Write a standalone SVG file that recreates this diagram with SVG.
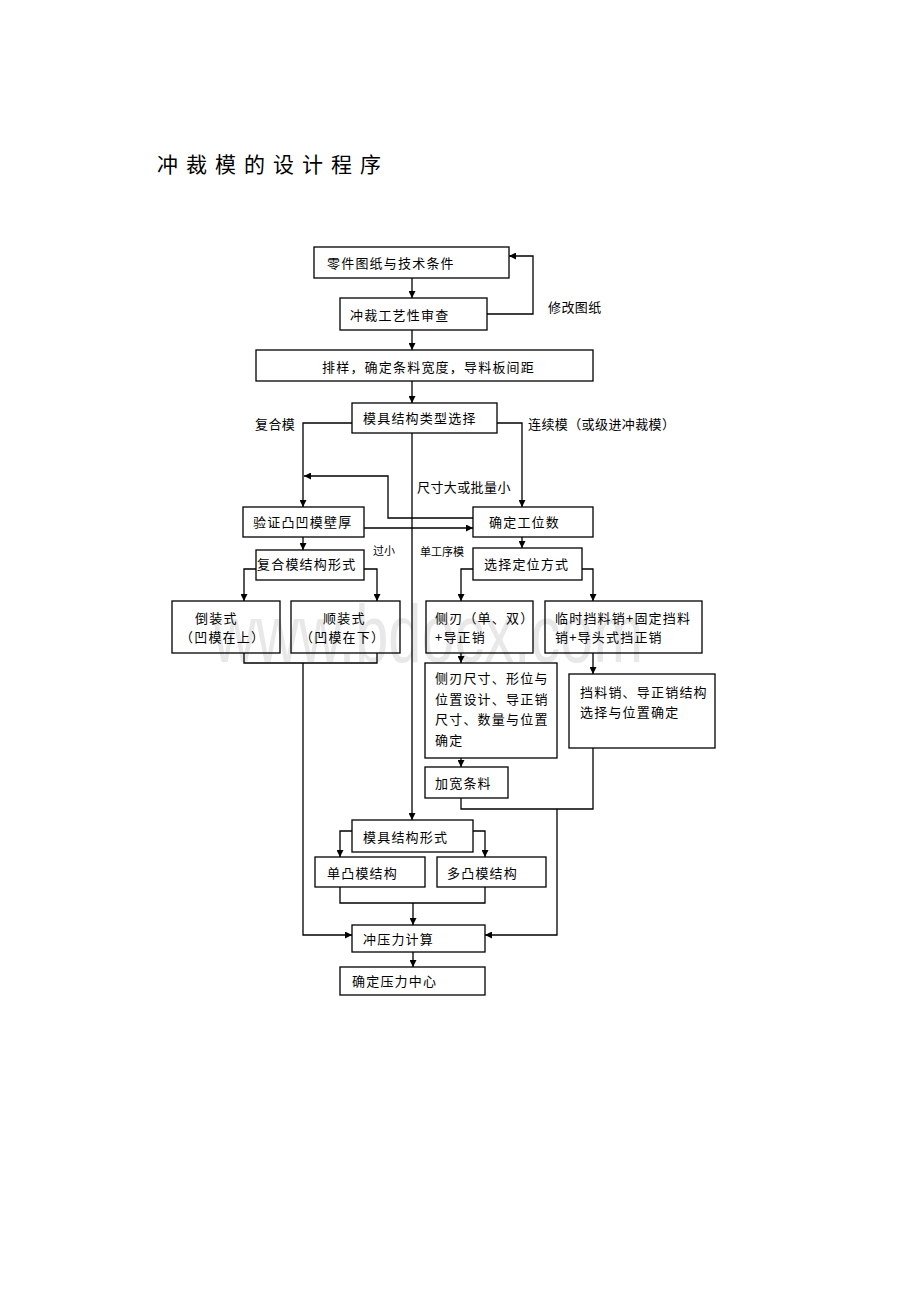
<svg xmlns="http://www.w3.org/2000/svg" width="920" height="1302" viewBox="0 0 920 1302">
<defs>
<style>
.bx{fill:none;stroke:#000;stroke-width:1.3}
.t{font-family:"Noto Sans CJK SC","Liberation Sans",sans-serif;font-size:13px;letter-spacing:1.2px;fill:#000}
.lb{font-family:"Noto Sans CJK SC","Liberation Sans",sans-serif;font-size:13px;letter-spacing:0.4px;fill:#000}
.sm{font-family:"Noto Sans CJK SC","Liberation Sans",sans-serif;font-size:11px;fill:#000}
.c{fill:none;stroke:#000;stroke-width:1.3}
.ttl{font-family:"Noto Sans CJK SC","Liberation Sans",sans-serif;font-size:21px;letter-spacing:8px;fill:#000}
.wm{font-family:"Liberation Sans",sans-serif;font-size:82px;fill:#e8e8e8}
</style>
<marker id="ah" viewBox="0 0 8 8" refX="8" refY="4" markerWidth="7" markerHeight="7" markerUnits="userSpaceOnUse" orient="auto">
<path d="M0,0 L8,4 L0,8 z" fill="#000"/>
</marker>
</defs>
<rect x="0" y="0" width="920" height="1302" fill="#fff"/>
<text class="wm" x="213" y="662" textLength="430" lengthAdjust="spacingAndGlyphs">www.bdocx.com</text>
<text class="ttl" x="157" y="172">冲裁模的设计程序</text>

<g id="connectors">
<path class="c" d="M412,278 V298" marker-end="url(#ah)"/>
<path class="c" d="M487,314 H533 V256 H509" marker-end="url(#ah)"/>
<path class="c" d="M412,330 V350" marker-end="url(#ah)"/>
<path class="c" d="M412,381 V403" marker-end="url(#ah)"/>
<path class="c" d="M352,423 H303 V507" marker-end="url(#ah)"/>
<path class="c" d="M497,423 H522 V507" marker-end="url(#ah)"/>
<path class="c" d="M412,433 V820" marker-end="url(#ah)"/>
<path class="c" d="M473,518 H388 V476 H304" marker-end="url(#ah)"/>
<path class="c" d="M364,528 H473" marker-end="url(#ah)"/>
<path class="c" d="M303,537 V550" marker-end="url(#ah)"/>
<path class="c" d="M256,569 H244 V601" marker-end="url(#ah)"/>
<path class="c" d="M364,569 H377 V601" marker-end="url(#ah)"/>
<path class="c" d="M244,653 V663 H377 V653"/>
<path class="c" d="M303,663 V935 H352" marker-end="url(#ah)"/>
<path class="c" d="M522,537 V548" marker-end="url(#ah)"/>
<path class="c" d="M473,569 H461 V601" marker-end="url(#ah)"/>
<path class="c" d="M582,569 H593 V601" marker-end="url(#ah)"/>
<path class="c" d="M461,653 V663" marker-end="url(#ah)"/>
<path class="c" d="M593,653 V674" marker-end="url(#ah)"/>
<path class="c" d="M461,758 V767" marker-end="url(#ah)"/>
<path class="c" d="M461,798 V809 H593 V748"/>
<path class="c" d="M557,809 V935 H485" marker-end="url(#ah)"/>
<path class="c" d="M352,831 H340 V857" marker-end="url(#ah)"/>
<path class="c" d="M473,831 H485 V857" marker-end="url(#ah)"/>
<path class="c" d="M340,887 V903 H485 V887"/>
<path class="c" d="M413,903 V925" marker-end="url(#ah)"/>
<path class="c" d="M413,952 V967" marker-end="url(#ah)"/>
</g>

<g id="labels">
<text class="lb" x="548" y="312">修改图纸</text>
<text class="lb" x="255" y="429">复合模</text>
<text class="lb" x="528" y="429">连续模（或级进冲裁模）</text>
<text class="lb" x="417" y="492">尺寸大或批量小</text>
<text class="sm" x="373" y="555">过小</text>
<text class="sm" x="420" y="556">单工序模</text>
</g>

<g id="n1"><rect class="bx" x="314" y="247" width="195" height="31"/><text class="t" x="327" y="268">零件图纸与技术条件</text></g>
<g id="n2"><rect class="bx" x="340" y="298" width="147" height="32"/><text class="t" x="350" y="320">冲裁工艺性审查</text></g>
<g id="n3"><rect class="bx" x="256" y="350" width="337" height="31"/><text class="t" x="322" y="372">排样，确定条料宽度，导料板间距</text></g>
<g id="n4"><rect class="bx" x="352" y="403" width="145" height="30"/><text class="t" x="363" y="423">模具结构类型选择</text></g>
<g id="n5"><rect class="bx" x="243" y="507" width="121" height="30"/><text class="t" x="253" y="527">验证凸凹模壁厚</text></g>
<g id="n6"><rect class="bx" x="256" y="550" width="108" height="30"/><text class="t" x="257" y="569">复合模结构形式</text></g>
<g id="n7"><rect class="bx" x="172" y="601" width="108" height="52"/><text class="t" x="195" y="623">倒装式</text><text class="t" x="180" y="642">（凹模在上）</text></g>
<g id="n8"><rect class="bx" x="291" y="601" width="109" height="52"/><text class="t" x="323" y="623">顺装式</text><text class="t" x="300" y="642">（凹模在下）</text></g>
<g id="n9"><rect class="bx" x="473" y="507" width="120" height="30"/><text class="t" x="489" y="527">确定工位数</text></g>
<g id="n10"><rect class="bx" x="473" y="548" width="109" height="32"/><text class="t" x="484" y="569">选择定位方式</text></g>
<g id="n11"><rect class="bx" x="426" y="601" width="107" height="52"/><text class="t" x="435" y="623">侧刃（单、双）</text><text class="t" x="435" y="642">+导正销</text></g>
<g id="n12"><rect class="bx" x="545" y="601" width="157" height="52"/><text class="t" x="555" y="623">临时挡料销+固定挡料</text><text class="t" x="555" y="642">销+导头式挡正销</text></g>
<g id="n13"><rect class="bx" x="425" y="663" width="132" height="95"/><text class="t" x="435" y="683">侧刃尺寸、形位与</text><text class="t" x="435" y="703.5">位置设计、导正销</text><text class="t" x="435" y="724">尺寸、数量与位置</text><text class="t" x="435" y="744.5">确定</text></g>
<g id="n14"><rect class="bx" x="569" y="674" width="146" height="74"/><text class="t" x="580" y="697">挡料销、导正销结构</text><text class="t" x="580" y="717">选择与位置确定</text></g>
<g id="n15"><rect class="bx" x="425" y="767" width="83" height="31"/><text class="t" x="435" y="788">加宽条料</text></g>
<g id="n16"><rect class="bx" x="352" y="820" width="121" height="32"/><text class="t" x="363" y="842">模具结构形式</text></g>
<g id="n17"><rect class="bx" x="315" y="857" width="110" height="30"/><text class="t" x="327" y="878">单凸模结构</text></g>
<g id="n18"><rect class="bx" x="437" y="857" width="109" height="30"/><text class="t" x="447" y="878">多凸模结构</text></g>
<g id="n19"><rect class="bx" x="352" y="925" width="133" height="27"/><text class="t" x="363" y="944">冲压力计算</text></g>
<g id="n20"><rect class="bx" x="340" y="967" width="145" height="28"/><text class="t" x="352" y="986">确定压力中心</text></g>
</svg>
